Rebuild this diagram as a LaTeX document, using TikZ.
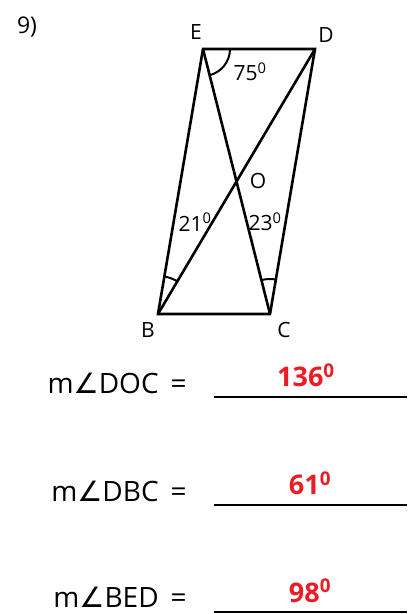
\documentclass[tikz,border=0pt]{standalone}
\usepackage{fontspec}
\setmainfont{Open Sans}
\newfontfamily\symfont{DejaVu Sans}
\usetikzlibrary{calc}
\definecolor{ansred}{RGB}{237,28,36}

\begin{document}
\begin{tikzpicture}[x=1pt, y=1pt, line width=2.6pt,
  lbl/.style={font=\fontsize{21}{23}\selectfont, inner sep=0pt},
  eqn/.style={font=\fontsize{28}{30}\selectfont, inner sep=0pt, anchor=base east},
  ans/.style={font=\fontsize{27}{29}\selectfont\bfseries, text=ansred, inner sep=0pt, anchor=base}]
  \useasboundingbox (0,0) rectangle (416,614);
  % parallelogram E D C B, diagonals EC and BD meet at O
  \coordinate (E) at (203,565);
  \coordinate (D) at (315,565);
  \coordinate (B) at (158,300);
  \coordinate (C) at (270,300);
  \draw (E)--(D)--(C)--(B)--cycle;
  \draw (E)--(C);
  \draw (B)--(D);
  % angle marks
  \draw[line width=2pt] ($(E)+(0:27pt)$) arc[start angle=0, end angle=-75.8, radius=27pt];
  \draw[line width=2pt] ($(B)+(59.4:38pt)$) arc[start angle=59.4, end angle=80.4, radius=38pt];
  \draw[line width=2pt] ($(C)+(80.4:35pt)$) arc[start angle=80.4, end angle=104.2, radius=35pt];
  % labels
  \node[lbl, font=\fontsize{23}{25}\selectfont] (num) at (27,587) {9)};
  \node[lbl] (lE) at (196,582) {E};
  \node[lbl] (lD) at (326,579) {D};
  \node[lbl] (lB) at (148,284) {B};
  \node[lbl] (lC) at (284,284) {C};
  \node[lbl] (lO) at (258,433) {O};
  \node[lbl] (aE) at (250,542) {75\textsuperscript{0}};
  \node[lbl] (aB) at (195,392) {21\textsuperscript{0}};
  \node[lbl] (aC) at (265,392) {23\textsuperscript{0}};
  % questions and answers
  \node[eqn] (q1) at (188,220) {m{\symfont ∠}DOC\hspace{12pt}=};
  \node[eqn] (q2) at (188,112) {m{\symfont ∠}DBC\hspace{12pt}=};
  \node[eqn] (q3) at (188,6) {m{\symfont ∠}BED\hspace{12pt}=};
  \coordinate (u1a) at (214,217); \coordinate (u1b) at (407,217);
  \coordinate (u2a) at (214,109); \coordinate (u2b) at (407,109);
  \coordinate (u3a) at (214,2);   \coordinate (u3b) at (407,2);
  \draw[line width=2.2pt] (u1a)--(u1b);
  \draw[line width=2.2pt] (u2a)--(u2b);
  \draw[line width=2.2pt] (u3a)--(u3b);
  \node[ans] (r1) at (306,227) {136\textsuperscript{0}};
  \node[ans] (r2) at (310,119) {61\textsuperscript{0}};
  \node[ans] (r3) at (310,12) {98\textsuperscript{0}};
\end{tikzpicture}
\end{document}
